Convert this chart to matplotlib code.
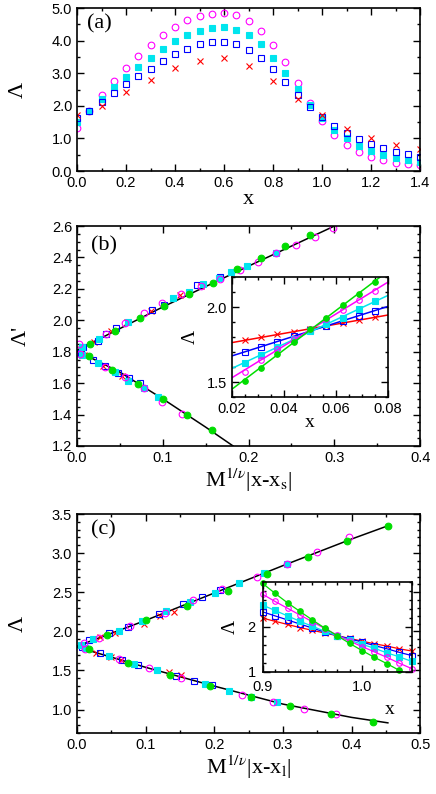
import numpy as np
import matplotlib
matplotlib.use('Agg')
import matplotlib.pyplot as plt
from matplotlib.ticker import MultipleLocator

## ---------------- panel (a) ----------------
xa = [0.0, 0.05, 0.1, 0.15, 0.2, 0.25, 0.3, 0.35, 0.4, 0.45, 0.5, 0.55, 0.6, 0.65, 0.7,
      0.75, 0.8, 0.85, 0.9, 0.95, 1.0, 1.05, 1.1, 1.15, 1.2, 1.25, 1.3, 1.35, 1.4]
a_mag = [1.33, 1.85, 2.34, 2.77, 3.16, 3.53, 3.87, 4.16, 4.42, 4.63, 4.76, 4.83, 4.85, 4.78, 4.59,
         4.30, 3.88, 3.34, 2.69, 2.08, 1.52, 1.11, 0.80, 0.58, 0.44, 0.34, 0.26, 0.22, 0.18]
a_cyan = [1.49, 1.85, 2.21, 2.57, 2.88, 3.18, 3.46, 3.74, 3.98, 4.18, 4.31, 4.39, 4.41, 4.32, 4.16,
          3.89, 3.48, 3.00, 2.51, 2.03, 1.62, 1.26, 1.00, 0.78, 0.62, 0.49, 0.41, 0.34, 0.29]
a_blue = [1.64, 1.84, 2.13, 2.39, 2.66, 2.92, 3.14, 3.37, 3.59, 3.74, 3.89, 3.97, 3.97, 3.90, 3.72,
          3.46, 3.13, 2.73, 2.34, 1.96, 1.67, 1.38, 1.16, 0.97, 0.82, 0.70, 0.59, 0.52, 0.44]
xa_red = [0.0, 0.1, 0.2, 0.3, 0.4, 0.5, 0.6, 0.7, 0.8, 0.9, 1.0, 1.1, 1.2, 1.3, 1.4]
a_red = [1.72, 1.98, 2.41, 2.80, 3.16, 3.39, 3.46, 3.23, 2.75, 2.20, 1.72, 1.29, 1.02, 0.79, 0.67]

## ---------------- panel (b): collapse ----------------
b_mag_x = [0.002, 0.034, 0.056, 0.078, 0.099, 0.121, 0.145, 0.167, 0.19, 0.211, 0.232, 0.255, 0.278, 0.299,
           0.003, 0.033, 0.056, 0.078, 0.099, 0.122]
b_mag_y = [1.85, 1.915, 1.985, 2.045, 2.11, 2.165, 2.22, 2.265, 2.32, 2.37, 2.43, 2.48, 2.53, 2.59,
           1.785, 1.70, 1.636, 1.566, 1.48, 1.406]
b_cyan_x = [0.006, 0.026, 0.06, 0.112, 0.13, 0.147, 0.165, 0.18, 0.198, 0.232,
            0.006, 0.025, 0.044, 0.060, 0.078, 0.094]
b_cyan_y = [1.83, 1.883, 1.99, 2.139, 2.18, 2.23, 2.27, 2.31, 2.345, 2.43,
            1.78, 1.726, 1.67, 1.615, 1.57, 1.51]
b_blue_x = [0.007, 0.024, 0.034, 0.045, 0.087, 0.101, 0.14, 0.167,
            0.005, 0.019, 0.033, 0.048, 0.061, 0.073]
b_blue_y = [1.83, 1.87, 1.91, 1.953, 2.066, 2.10, 2.224, 2.275,
            1.79, 1.747, 1.71, 1.665, 1.63, 1.60]
b_green_x = [0.015, 0.044, 0.073, 0.101, 0.13, 0.158, 0.186, 0.215, 0.243, 0.272,
             0.014, 0.041, 0.071, 0.1, 0.128, 0.157]
b_green_y = [1.85, 1.93, 2.013, 2.09, 2.17, 2.24, 2.325, 2.395, 2.47, 2.54,
             1.77, 1.685, 1.594, 1.50, 1.40, 1.30]
b_red_x = [0.005, 0.02, 0.04, 0.058, 0.086, 0.112, 0.12, 0.144,
           0.008, 0.03, 0.052]
b_red_y = [1.82, 1.865, 1.93, 1.99, 2.06, 2.14, 2.16, 2.22,
           1.78, 1.71, 1.645]
# scaling curves (black lines)
b_up_x = [0.0, 0.1, 0.2, 0.3]
b_up_y = [1.81, 2.085, 2.345, 2.6]
b_lo_x = [0.0, 0.05, 0.1, 0.15, 0.182]
b_lo_y = [1.805, 1.67, 1.50, 1.32, 1.2]

# inset (b)
xb_in = [0.025, 0.03125, 0.0375, 0.04375, 0.05, 0.05625, 0.0625, 0.06875, 0.075]
bi_red = [1.78, 1.798, 1.818, 1.835, 1.853, 1.871, 1.893, 1.913, 1.935]
bi_blue = [1.70, 1.735, 1.77, 1.805, 1.845, 1.875, 1.91, 1.94, 1.975]
bi_cyan = [1.63, 1.68, 1.735, 1.785, 1.84, 1.885, 1.93, 1.985, 2.04]
bi_mag = [1.57, 1.645, 1.72, 1.79, 1.855, 1.92, 1.98, 2.045, 2.105]
bi_green = [1.51, 1.595, 1.685, 1.77, 1.855, 1.93, 2.015, 2.09, 2.165]

## ---------------- panel (c): collapse ----------------
c_green_x = [0.043, 0.101, 0.160, 0.220, 0.277, 0.337, 0.394, 0.453,
             0.018, 0.075, 0.135, 0.194, 0.254, 0.311, 0.370, 0.431]
c_green_y = [1.95, 2.15, 2.33, 2.52, 2.73, 2.95, 3.15, 3.35,
             1.77, 1.60, 1.44, 1.30, 1.165, 1.04, 0.94, 0.84]
c_mag_x = [0.010, 0.032, 0.077, 0.128, 0.169, 0.211, 0.262, 0.306, 0.350, 0.397,
           0.012, 0.061, 0.105, 0.151, 0.241, 0.286, 0.331, 0.377]
c_mag_y = [1.85, 1.92, 2.07, 2.24, 2.40, 2.54, 2.70, 2.86, 3.02, 3.206,
           1.78, 1.65, 1.53, 1.40, 1.19, 1.10, 1.01, 0.94]
c_cyan_x = [0.006, 0.024, 0.061, 0.095, 0.129, 0.165, 0.201, 0.236, 0.272, 0.306,
            0.012, 0.046, 0.083, 0.117, 0.186, 0.221, 0.254, 0.292]
c_cyan_y = [1.83, 1.90, 2.01, 2.13, 2.26, 2.37, 2.49, 2.62, 2.75, 2.86,
            1.79, 1.69, 1.58, 1.50, 1.33, 1.24, 1.165, 1.095]
c_blue_x = [0.018, 0.046, 0.075, 0.12, 0.155, 0.182, 0.209,
            0.007, 0.034, 0.065, 0.089, 0.144, 0.170, 0.197]
c_blue_y = [1.89, 1.985, 2.06, 2.22, 2.345, 2.44, 2.535,
            1.80, 1.72, 1.64, 1.57, 1.43, 1.37, 1.31]
c_red_x = [0.034, 0.056, 0.098, 0.121, 0.141,
           0.028, 0.05, 0.064, 0.134, 0.152]
c_red_y = [1.93, 1.985, 2.10, 2.19, 2.25,
           1.725, 1.675, 1.64, 1.48, 1.44]
c_up_x = [0.0, 0.1, 0.2, 0.3, 0.4, 0.45]
c_up_y = [1.81, 2.14, 2.49, 2.84, 3.18, 3.34]
c_lo_x = [0.0, 0.1, 0.2, 0.3, 0.4, 0.453]
c_lo_y = [1.80, 1.54, 1.30, 1.07, 0.90, 0.83]

# inset (c)
xc_in = [0.9, 0.9125, 0.925, 0.9375, 0.95, 0.9625, 0.975, 0.9875, 1.0, 1.0125, 1.025, 1.0375, 1.05]
ci_green = [2.96, 2.74, 2.53, 2.34, 2.15, 1.97, 1.80, 1.63, 1.47, 1.32, 1.18, 1.03, 0.90]
ci_mag = [2.72, 2.56, 2.41, 2.26, 2.11, 1.96, 1.81, 1.68, 1.56, 1.44, 1.32, 1.19, 1.07]
ci_cyan = [2.48, 2.36, 2.24, 2.12, 2.01, 1.90, 1.80, 1.70, 1.61, 1.52, 1.42, 1.33, 1.23]
ci_blue = [2.33, 2.24, 2.15, 2.06, 1.97, 1.88, 1.80, 1.73, 1.66, 1.58, 1.51, 1.43, 1.36]
ci_red = [2.19, 2.12, 2.05, 1.98, 1.92, 1.86, 1.80, 1.74, 1.68, 1.62, 1.57, 1.51, 1.46]

## ---------------- style ----------------
MAG, CYAN, BLUE, RED, GREEN = '#ff00ff', '#00e5ee', '#0000ff', '#ff0000', '#00dd00'
plt.rcParams['font.family'] = ['Liberation Sans', 'DejaVu Sans']
plt.rcParams['mathtext.fontset'] = 'stix'
serif = ['Liberation Serif', 'DejaVu Serif']
tick_fs = 10.5
lab_fs = 16

sty = {
    'mag': dict(marker='o', ms=4.8, mfc='none', mec=MAG, mew=0.8, ls='none'),
    'cyan': dict(marker='s', ms=4.8, mfc=CYAN, mec=CYAN, mew=0.8, ls='none'),
    'blue': dict(marker='s', ms=4.8, mfc='none', mec=BLUE, mew=0.8, ls='none'),
    'red': dict(marker='x', ms=4.8, mec=RED, mew=0.8, ls='none'),
    'green': dict(marker='o', ms=4.8, mfc=GREEN, mec=GREEN, mew=0.8, ls='none'),
}


def style_axes(ax, xmaj, xmin, ymaj, ymin):
    ax.xaxis.set_major_locator(MultipleLocator(xmaj))
    ax.xaxis.set_minor_locator(MultipleLocator(xmin))
    ax.yaxis.set_major_locator(MultipleLocator(ymaj))
    ax.yaxis.set_minor_locator(MultipleLocator(ymin))
    ax.tick_params(which='both', direction='in', top=True, right=True, labelsize=tick_fs, width=1.0)
    ax.tick_params(which='major', length=5)
    ax.tick_params(which='minor', length=2.5)
    for s in ax.spines.values():
        s.set_linewidth(1.2)


fig = plt.figure(figsize=(4.36, 7.94), dpi=100)

## (a)
ax1 = fig.add_axes([0.1766, 0.7846, 0.787, 0.2053])
ax1.plot(xa, a_mag, **sty['mag'])
ax1.plot(xa, a_cyan, **sty['cyan'])
ax1.plot(xa, a_blue, **sty['blue'])
ax1.plot(xa_red, a_red, **sty['red'])
ax1.set_xlim(0, 1.4)
ax1.set_ylim(0, 5)
style_axes(ax1, 0.2, 0.1, 1.0, 0.5)
ax1.xaxis.set_major_formatter('{x:.1f}')
ax1.yaxis.set_major_formatter('{x:.1f}')
ax1.set_xlabel('x', family=serif, fontsize=lab_fs, labelpad=0)
ax1.set_ylabel('Λ', family=serif, fontsize=lab_fs, labelpad=17)
ax1.text(0.03, 0.96, '(a)', transform=ax1.transAxes, family=serif, fontsize=lab_fs, va='top', ha='left')

## (b)
ax2 = fig.add_axes([0.1766, 0.4383, 0.787, 0.277])
ax2.plot(b_up_x, b_up_y, '-', color='k', lw=1.1)
ax2.plot(b_lo_x, b_lo_y, '-', color='k', lw=1.1)
ax2.plot(b_red_x, b_red_y, **sty['red'])
ax2.plot(b_blue_x, b_blue_y, **sty['blue'])
ax2.plot(b_cyan_x, b_cyan_y, **sty['cyan'])
ax2.plot(b_mag_x, b_mag_y, **sty['mag'])
ax2.plot(b_green_x, b_green_y, **sty['green'])
ax2.set_xlim(0, 0.4)
ax2.set_ylim(1.2, 2.6)
style_axes(ax2, 0.1, 0.05, 0.2, 0.05)
ax2.xaxis.set_major_formatter('{x:.1f}')
ax2.yaxis.set_major_formatter('{x:.1f}')
ax2.set_xlabel(r'M$^{1/\nu}$|x-x$_{\rm s}$|', family=serif, fontsize=lab_fs, labelpad=1)
ax2.set_ylabel("Λ'", family=serif, fontsize=lab_fs, labelpad=15)
ax2.text(0.04, 0.955, '(b)', transform=ax2.transAxes, family=serif, fontsize=lab_fs, va='top', ha='left')

# inset (b)
axb = fig.add_axes([0.532, 0.5, 0.358, 0.151])
xx = np.array([0.02, 0.08])
for yv, col, key in [(bi_red, RED, 'red'), (bi_blue, BLUE, 'blue'), (bi_cyan, CYAN, 'cyan'),
                     (bi_mag, MAG, 'mag'), (bi_green, GREEN, 'green')]:
    p = np.polyfit(xb_in, yv, 1)
    axb.plot(xx, np.polyval(p, xx), '-', color=col, lw=1.1)
    axb.plot(xb_in, yv, **dict(sty[key], ms=4))
axb.set_xlim(0.02, 0.08)
axb.set_ylim(1.4, 2.2)
style_axes(axb, 0.02, 0.005, 0.5, 0.1)
axb.yaxis.set_major_formatter('{x:.1f}')
axb.set_xlabel('x', family=serif, fontsize=14, labelpad=-1)
axb.set_ylabel('Λ', family=serif, fontsize=14, labelpad=6)

## (c)
ax3 = fig.add_axes([0.1766, 0.0768, 0.787, 0.2758])
ax3.plot(c_up_x, c_up_y, '-', color='k', lw=1.1)
ax3.plot(c_lo_x, c_lo_y, '-', color='k', lw=1.1)
ax3.plot(c_red_x, c_red_y, **sty['red'])
ax3.plot(c_blue_x, c_blue_y, **sty['blue'])
ax3.plot(c_cyan_x, c_cyan_y, **sty['cyan'])
ax3.plot(c_mag_x, c_mag_y, **sty['mag'])
ax3.plot(c_green_x, c_green_y, **sty['green'])
ax3.set_xlim(0, 0.5)
ax3.set_ylim(0.7, 3.5)
style_axes(ax3, 0.1, 0.05, 0.5, 0.1)
ax3.xaxis.set_major_formatter('{x:.1f}')
ax3.yaxis.set_major_formatter('{x:.1f}')
ax3.set_xlabel(r'M$^{1/\nu}$|x-x$_{\rm l}$|', family=serif, fontsize=lab_fs, labelpad=1)
ax3.set_ylabel('Λ', family=serif, fontsize=lab_fs, labelpad=17)
ax3.text(0.04, 0.97, '(c)', transform=ax3.transAxes, family=serif, fontsize=lab_fs, va='top', ha='left')

# inset (c)
axc = fig.add_axes([0.6025, 0.154, 0.3417, 0.1134])
for yv, col, key in [(ci_red, RED, 'red'), (ci_blue, BLUE, 'blue'), (ci_cyan, CYAN, 'cyan'),
                     (ci_mag, MAG, 'mag'), (ci_green, GREEN, 'green')]:
    axc.plot(xc_in, yv, '-', color=col, lw=0.9)
    xs = [x for x, y in zip(xc_in, yv) if y >= 1.0]
    ys = [y for y in yv if y >= 1.0]
    axc.plot(xs, ys, clip_on=False, **dict(sty[key], ms=4))
axc.set_xlim(0.9, 1.05)
axc.set_ylim(1, 3)
style_axes(axc, 0.1, 0.0125, 1, 0.2)
axc.set_yticks([1, 2])
axc.tick_params(axis='x', which='major', pad=6)
axc.tick_params(axis='y', which='major', pad=5)
axc.xaxis.set_major_formatter('{x:.1f}')
axc.set_xlabel('x', family=serif, fontsize=14, labelpad=-1)
axc.xaxis.set_label_coords(0.85, -0.33)
axc.set_ylabel('Λ', family=serif, fontsize=14, labelpad=6)

fig.savefig('out.png', dpi=100)
